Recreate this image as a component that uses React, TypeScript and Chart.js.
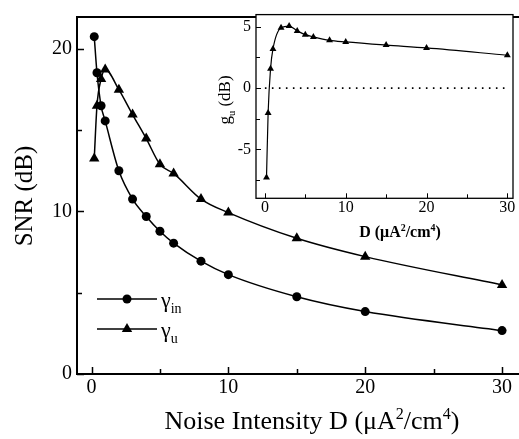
import React, { useEffect, useRef } from "react";
import { Chart, registerables } from "chart.js";
Chart.register(...registerables);

// ---- data ----
const noiseD = [0.2, 0.4, 0.7, 1, 2, 3, 4, 5, 6, 8, 10, 15, 20, 30];
const snrIn = [20.75, 18.53, 16.5, 15.57, 12.5, 10.76, 9.69, 8.78, 8.05, 6.94, 6.11, 4.75, 3.84, 2.67];
const snrU = [13.25, 16.5, 18.14, 18.73, 17.49, 15.96, 14.48, 12.9, 12.34, 10.76, 9.93, 8.35, 7.22, 5.48];
const gainU = [-7.3, -2.03, 1.58, 3.2, 4.93, 5.06, 4.67, 4.36, 4.18, 3.9, 3.77, 3.51, 3.28, 2.68];
const zeroLineD = [0, 30];
const zeroLineG = [0, 0];

const mainXMajor = [0, 10, 20, 30];
const mainXMinor = [5, 15, 25];
const mainYMajor = [0, 10, 20];
const mainYMinor = [5, 15];
const insetXMajor = [0, 10, 20, 30];
const insetXMinor = [5, 15, 25];
const insetYMajor = [-5, 0, 5];
const insetYMinor = [-7.5, -2.5, 2.5];

const SERIF = '"Liberation Serif", "Times New Roman", serif';

type Part = { t: string; sup?: boolean; sub?: boolean };

function setFont(ctx: CanvasRenderingContext2D, size: number, weight: string) {
  ctx.font = `${weight} ${size}px ${SERIF}`;
}

function richWidth(ctx: CanvasRenderingContext2D, parts: Part[], size: number, weight: string) {
  let w = 0;
  for (const p of parts) {
    setFont(ctx, p.sup || p.sub ? size * 0.62 : size, weight);
    w += ctx.measureText(p.t).width;
  }
  return w;
}

function drawRich(
  ctx: CanvasRenderingContext2D,
  parts: Part[],
  x: number,
  y: number,
  size: number,
  weight = "normal"
) {
  const w = richWidth(ctx, parts, size, weight);
  let cx = x - w / 2;
  ctx.textAlign = "left";
  ctx.textBaseline = "alphabetic";
  for (const p of parts) {
    const s = p.sup || p.sub ? size * 0.62 : size;
    setFont(ctx, s, weight);
    const dy = p.sup ? -size * 0.4 : p.sub ? size * 0.28 : 0;
    ctx.fillText(p.t, cx, y + dy);
    cx += ctx.measureText(p.t).width;
  }
}

function drawInnerTicks(
  chart: any,
  xMajor: number[],
  xMinor: number[],
  yMajor: number[],
  yMinor: number[],
  major: number,
  minor: number,
  lw: number
) {
  const { ctx, chartArea } = chart;
  const { left, bottom } = chartArea;
  const xs = chart.scales.x;
  const ys = chart.scales.y;
  ctx.save();
  ctx.strokeStyle = "#000";
  ctx.lineWidth = lw;
  ctx.beginPath();
  for (const v of xMajor) {
    const p = Math.round(xs.getPixelForValue(v)) + 0.5;
    ctx.moveTo(p, bottom);
    ctx.lineTo(p, bottom - major);
  }
  for (const v of xMinor) {
    const p = Math.round(xs.getPixelForValue(v)) + 0.5;
    ctx.moveTo(p, bottom);
    ctx.lineTo(p, bottom - minor);
  }
  for (const v of yMajor) {
    const p = Math.round(ys.getPixelForValue(v)) + 0.5;
    ctx.moveTo(left, p);
    ctx.lineTo(left + major, p);
  }
  for (const v of yMinor) {
    const p = Math.round(ys.getPixelForValue(v)) + 0.5;
    ctx.moveTo(left, p);
    ctx.lineTo(left + minor, p);
  }
  ctx.stroke();
  ctx.restore();
}

const mainPlugin = {
  id: "mainDecor",
  afterDraw(chart: any) {
    const { ctx, chartArea } = chart;
    const { left, top, bottom } = chartArea;
    ctx.save();
    ctx.strokeStyle = "#000";
    ctx.lineWidth = 2;
    ctx.beginPath();
    ctx.moveTo(chart.width + 5, top);
    ctx.lineTo(left, top);
    ctx.lineTo(left, bottom);
    ctx.lineTo(chart.width + 5, bottom);
    ctx.stroke();
    ctx.restore();

    drawInnerTicks(chart, mainXMajor, mainXMinor, mainYMajor, mainYMinor, 7, 5, 1.5);

    ctx.save();
    ctx.fillStyle = "#000";
    // x title
    drawRich(
      ctx,
      [
        { t: "Noise Intensity D (\u03bcA" },
        { t: "2", sup: true },
        { t: "/cm" },
        { t: "4", sup: true },
        { t: ")" },
      ],
      312,
      429,
      26
    );
    // y title
    ctx.save();
    ctx.translate(32, 196);
    ctx.rotate(-Math.PI / 2);
    drawRich(ctx, [{ t: "SNR (dB)" }], 0, 0, 25);
    ctx.restore();

    // legend
    const items = [
      { style: "circle", y: 299, main: "\u03b3", sub: "in" },
      { style: "triangle", y: 329, main: "\u03b3", sub: "u" },
    ];
    for (const it of items) {
      ctx.strokeStyle = "#000";
      ctx.lineWidth = 1.5;
      ctx.beginPath();
      ctx.moveTo(97, it.y);
      ctx.lineTo(157, it.y);
      ctx.stroke();
      ctx.beginPath();
      if (it.style === "circle") {
        ctx.arc(127, it.y, 4.5, 0, Math.PI * 2);
      } else {
        const r = 6;
        for (let k = 0; k < 3; k++) {
          const a = (k * 2 * Math.PI) / 3;
          const px = 127 + Math.sin(a) * r;
          const py = it.y - Math.cos(a) * r;
          if (k === 0) ctx.moveTo(px, py);
          else ctx.lineTo(px, py);
        }
        ctx.closePath();
      }
      ctx.fill();
      ctx.textAlign = "left";
      ctx.textBaseline = "alphabetic";
      setFont(ctx, 22, "normal");
      ctx.fillText(it.main, 161, it.y + 8);
      const gw = ctx.measureText(it.main).width;
      setFont(ctx, 14, "normal");
      ctx.fillText(it.sub, 161 + gw, it.y + 14);
    }
    ctx.restore();
  },
};

const insetPlugin = {
  id: "insetDecor",
  beforeDraw(chart: any) {
    const { ctx, chartArea } = chart;
    ctx.save();
    ctx.fillStyle = "#fff";
    ctx.fillRect(chartArea.left, chartArea.top, chartArea.right - chartArea.left, chartArea.bottom - chartArea.top);
    ctx.restore();
  },
  afterDraw(chart: any) {
    const { ctx, chartArea } = chart;
    const { left, top, right, bottom } = chartArea;
    ctx.save();
    ctx.strokeStyle = "#000";
    ctx.lineWidth = 1.3;
    ctx.strokeRect(left, top, right - left, bottom - top);
    ctx.restore();
    drawInnerTicks(chart, insetXMajor, insetXMinor, insetYMajor, insetYMinor, 5, 4, 1);

    ctx.save();
    ctx.fillStyle = "#000";
    drawRich(
      ctx,
      [
        { t: "D (\u03bcA" },
        { t: "2", sup: true },
        { t: "/cm" },
        { t: "4", sup: true },
        { t: ")" },
      ],
      200,
      237,
      16,
      "bold"
    );
    ctx.save();
    ctx.translate(30, 100);
    ctx.rotate(-Math.PI / 2);
    drawRich(ctx, [{ t: "g" }, { t: "u", sub: true }, { t: " (dB)" }], 0, 0, 17);
    ctx.restore();
    ctx.restore();
  },
};

function pts(xs: number[], ys: number[]) {
  return xs.map((x, i) => ({ x, y: ys[i] }));
}

export default function App() {
  const mainRef = useRef<HTMLCanvasElement>(null);
  const insetRef = useRef<HTMLCanvasElement>(null);

  useEffect(() => {
    const tickFontMain = { family: SERIF, size: 20 };
    const tickFontInset = { family: SERIF, size: 16 };

    const main = new Chart(mainRef.current as HTMLCanvasElement, {
      type: "line",
      data: {
        datasets: [
          {
            label: "\u03b3in",
            data: pts(noiseD, snrIn),
            borderColor: "#000",
            backgroundColor: "#000",
            borderWidth: 1.5,
            pointStyle: "circle",
            pointRadius: 4.5,
            pointBorderWidth: 0,
            cubicInterpolationMode: "monotone",
          },
          {
            label: "\u03b3u",
            data: pts(noiseD, snrU),
            borderColor: "#000",
            backgroundColor: "#000",
            borderWidth: 1.5,
            pointStyle: "triangle",
            pointRadius: 6,
            pointBorderWidth: 0,
            cubicInterpolationMode: "monotone",
          },
        ],
      },
      options: {
        responsive: false,
        animation: false,
        layout: { padding: { top: 4, right: 0, left: 0, bottom: 0 } },
        plugins: { legend: { display: false }, tooltip: { enabled: false } },
        scales: {
          x: {
            type: "linear",
            min: -1.06,
            max: 30.8,
            afterBuildTicks: (s: any) => {
              s.ticks = mainXMajor.map((v) => ({ value: v }));
            },
            afterFit: (s: any) => {
              s.height = 65;
            },
            ticks: { color: "#000", font: tickFontMain, padding: 2, maxRotation: 0, autoSkip: false },
            grid: { display: false, drawTicks: false },
            border: { display: false },
          },
          y: {
            type: "linear",
            min: 0,
            max: 21.96,
            afterBuildTicks: (s: any) => {
              s.ticks = mainYMajor.map((v) => ({ value: v }));
            },
            afterFit: (s: any) => {
              s.width = 77;
            },
            ticks: { color: "#000", font: tickFontMain, padding: 5, autoSkip: false },
            grid: { display: false, drawTicks: false },
            border: { display: false },
          },
        },
      } as any,
      plugins: [mainPlugin],
    });

    const inset = new Chart(insetRef.current as HTMLCanvasElement, {
      type: "line",
      data: {
        datasets: [
          {
            label: "zero",
            data: pts(zeroLineD, zeroLineG),
            borderColor: "#000",
            borderWidth: 1.6,
            borderDash: [1.6, 5.4],
            pointRadius: 0,
          },
          {
            label: "gu",
            data: pts(noiseD, gainU),
            borderColor: "#000",
            backgroundColor: "#000",
            borderWidth: 1.2,
            pointStyle: "triangle",
            pointRadius: 4,
            pointBorderWidth: 0,
            cubicInterpolationMode: "monotone",
          },
        ],
      },
      options: {
        responsive: false,
        animation: false,
        layout: { padding: { top: 9, right: 6, left: 0, bottom: 0 } },
        plugins: { legend: { display: false }, tooltip: { enabled: false } },
        scales: {
          x: {
            type: "linear",
            min: -1.1,
            max: 30.7,
            afterBuildTicks: (s: any) => {
              s.ticks = insetXMajor.map((v) => ({ value: v }));
            },
            afterFit: (s: any) => {
              s.height = 46.7;
            },
            ticks: { color: "#000", font: tickFontInset, padding: 0, maxRotation: 0, autoSkip: false },
            grid: { display: false, drawTicks: false },
            border: { display: false },
          },
          y: {
            type: "linear",
            min: -9,
            max: 6,
            afterBuildTicks: (s: any) => {
              s.ticks = insetYMajor.map((v) => ({ value: v }));
            },
            afterFit: (s: any) => {
              s.width = 56;
            },
            ticks: { color: "#000", font: tickFontInset, padding: 5, autoSkip: false },
            grid: { display: false, drawTicks: false },
            border: { display: false },
          },
        },
      } as any,
      plugins: [insetPlugin],
    });

    return () => {
      main.destroy();
      inset.destroy();
    };
  }, []);

  return (
    <div style={{ position: "absolute", left: 0, top: 0, width: 519, height: 439, background: "#fff", overflow: "hidden" }}>
      <canvas ref={mainRef} width={519} height={439} style={{ position: "absolute", left: 0, top: 0, display: "block" }} />
      <canvas ref={insetRef} width={319} height={245} style={{ position: "absolute", left: 200, top: 0, display: "block" }} />
    </div>
  );
}
